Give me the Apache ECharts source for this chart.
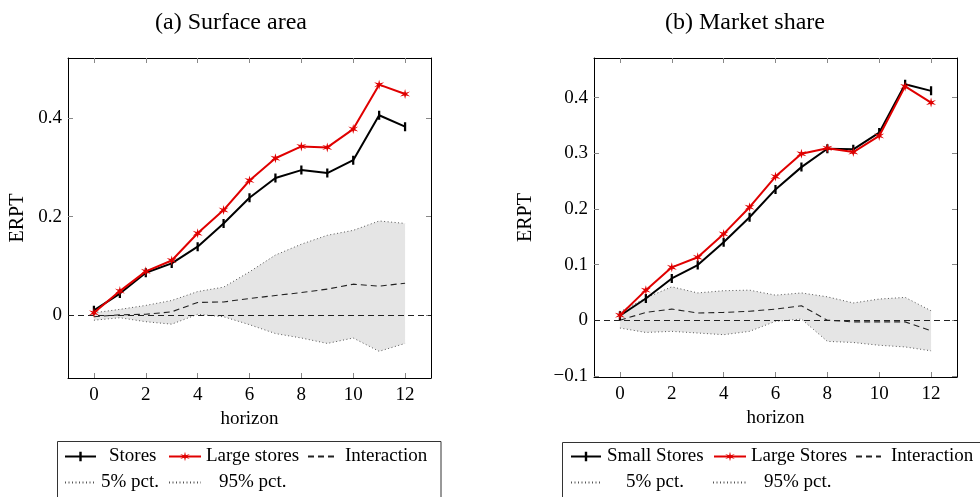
<!DOCTYPE html>
<html>
<head>
<meta charset="utf-8">
<script src="https://cdn.jsdelivr.net/npm/echarts@6/dist/echarts.min.js"></script>
<style>
html,body{margin:0;padding:0;background:#fff;}
#c{width:980px;height:497px;}
</style>
</head>
<body>
<div id="c"></div>
<script>
// ---- data ----
const horizon = [0,1,2,3,4,5,6,7,8,9,10,11,12];
// (a) Surface area
const surfStores = [0.010,0.044,0.086,0.105,0.139,0.186,0.238,0.278,0.294,0.288,0.314,0.405,0.382];
const surfLarge  = [0.005,0.049,0.089,0.111,0.166,0.213,0.273,0.318,0.342,0.340,0.377,0.467,0.448];
const surfInter  = [-0.003,0.001,0.002,0.007,0.026,0.027,0.034,0.040,0.046,0.053,0.063,0.059,0.065];
const surfP5     = [-0.010,-0.005,-0.013,-0.018,0.002,-0.003,-0.019,-0.037,-0.046,-0.057,-0.046,-0.073,-0.057];
const surfP95    = [0.005,0.012,0.020,0.030,0.048,0.057,0.088,0.122,0.144,0.162,0.172,0.191,0.186];
// (b) Market share
const mktSmall = [0.008,0.039,0.075,0.099,0.140,0.185,0.235,0.275,0.308,0.307,0.337,0.424,0.412];
const mktLarge = [0.009,0.054,0.095,0.113,0.155,0.203,0.258,0.299,0.309,0.302,0.331,0.420,0.391];
const mktInter = [0.000,0.014,0.020,0.013,0.014,0.016,0.020,0.026,0.000,-0.003,-0.003,-0.003,-0.019];
const mktP5    = [-0.014,-0.022,-0.020,-0.023,-0.026,-0.020,-0.002,0.002,-0.038,-0.040,-0.045,-0.048,-0.055];
const mktP95   = [0.015,0.040,0.060,0.049,0.053,0.054,0.045,0.049,0.042,0.031,0.038,0.041,0.017];
// ticks
const xTicks  = [0,2,4,6,8,10,12];
const yTicksA = [0,0.2,0.4];
const yTicksB = [-0.1,0,0.1,0.2,0.3,0.4];

// ---- styles ----
const FONT = '"Liberation Serif", "DejaVu Serif", serif';
const pairs = (ys) => horizon.map((x,i)=>[x, ys[i]]);
const fmtNum = (v) => { if (Math.abs(v) < 1e-9) return '0'; const s = (+v.toFixed(2)).toString(); return s.replace('-', '\u2212'); };

// asterisk-like star path
function starPath(){
  let d = '';
  const n = 6, R = 10, r = 3.2;
  for (let k=0;k<2*n;k++){
    const a = -Math.PI/2 + k*Math.PI/n;
    const rr = (k%2===0)?R:r;
    d += (k===0?'M':'L') + (rr*Math.cos(a)).toFixed(2) + ',' + (rr*Math.sin(a)).toFixed(2);
  }
  return 'path://' + d + 'Z';
}
const STAR = starPath();
// vertical bar mark inside a square bounding box (degenerate corner points keep the box square)
const BAR = 'path://M-5,-5L-5,-5ZM5,5L5,5ZM-1.25,-5L1.25,-5L1.25,5L-1.25,5Z';

function xAxes(gridIndex){
  const common = {
    type:'value', gridIndex, min:-1, max:13,
    axisLine:{show:true, onZero:false, lineStyle:{color:'#000', width:1}},
    splitLine:{show:false},
    axisTick:{show:true, inside:true, length:5, lineStyle:{color:'#888'}, customValues:xTicks}
  };
  return [
    Object.assign({}, common, {position:'bottom',
      axisLabel:{show:true, customValues:xTicks, margin:8, color:'#000', fontFamily:FONT, fontSize:19, formatter:fmtNum},
      name:'horizon', nameLocation:'middle', nameGap:31, nameTextStyle:{color:'#000', fontFamily:FONT, fontSize:19}}),
    Object.assign({}, common, {position:'top', axisLabel:{show:false}})
  ];
}
function yAxes(gridIndex, min, max, ticks, nameGap){
  const common = {
    type:'value', gridIndex, min, max,
    axisLine:{show:true, onZero:false, lineStyle:{color:'#000', width:1}},
    splitLine:{show:false},
    axisTick:{show:true, inside:true, length:5, lineStyle:{color:'#888'}, customValues:ticks}
  };
  return [
    Object.assign({}, common, {position:'left',
      axisLabel:{show:true, customValues:ticks, margin:6, color:'#000', fontFamily:FONT, fontSize:19, formatter:fmtNum},
      name:'ERPT', nameLocation:'middle', nameGap, nameRotate:90, nameTextStyle:{color:'#000', fontFamily:FONT, fontSize:20}}),
    Object.assign({}, common, {position:'right', axisLabel:{show:false}})
  ];
}

function bandSeries(ax, lo, hi){
  return {
    type:'custom', xAxisIndex:ax, yAxisIndex:ax, silent:true, clip:true, z:1,
    data: horizon.map((x,i)=>[x, lo[i], hi[i]]),
    renderItem: function(params, api){
      if (params.dataIndex !== 0) return null;
      const pts = [];
      for (let i=0;i<horizon.length;i++) pts.push(api.coord([horizon[i], lo[i]]));
      for (let i=horizon.length-1;i>=0;i--) pts.push(api.coord([horizon[i], hi[i]]));
      return {type:'polygon', shape:{points:pts}, style:{fill:'#e5e5e5', stroke:null}};
    }
  };
}
function dotted(ax, name, ys){
  return {type:'line', name, xAxisIndex:ax, yAxisIndex:ax, data:pairs(ys), symbol:'none', z:2, silent:true,
    itemStyle:{color:'#555'},
    lineStyle:{color:'#555', width:1, type:[1,2.5]}};
}
function zeroAndInter(ax, ys){
  return {type:'line', name:'Interaction', xAxisIndex:ax, yAxisIndex:ax, data:pairs(ys), symbol:'none', z:3, silent:true,
    itemStyle:{color:'#222'},
    lineStyle:{color:'#222', width:1.1, type:[6,4]},
    markLine:{silent:true, symbol:'none', label:{show:false}, data:[{yAxis:0}],
      lineStyle:{color:'#222', width:1.1, type:[6,4]}}};
}
function blackLine(ax, name, ys){
  return {type:'line', name, xAxisIndex:ax, yAxisIndex:ax, data:pairs(ys), symbol:BAR, symbolSize:9, showSymbol:true, z:4, silent:true,
    lineStyle:{color:'#000', width:2}, itemStyle:{color:'#000'}};
}
function redLine(ax, name, ys){
  return {type:'line', name, xAxisIndex:ax, yAxisIndex:ax, data:pairs(ys), symbol:STAR, symbolSize:10, showSymbol:true, z:5, silent:true,
    lineStyle:{color:'#e00000', width:2}, itemStyle:{color:'#e00000'}};
}

function leg(name, left, top, pad, w, noSym){
  const item = noSym ? {name, itemStyle:{opacity:0}} : {name};
  return {data:[item], left, top, padding:0, itemWidth:w||31, itemHeight:12, selectedMode:false,
    textStyle:{color:'#000', fontFamily:FONT, fontSize:19, padding:[0,0,0,pad]}};
}

const chart = echarts.init(document.getElementById('c'), null, {renderer:'canvas'});
chart.setOption({
  animation:false,
  backgroundColor:'#fff',
  title:[
    {text:'(a) Surface area', left:226, top:6, textAlign:'center', textStyle:{fontFamily:FONT, fontSize:24, fontWeight:'normal', color:'#000'}},
    {text:'(b) Market share', left:740, top:6, textAlign:'center', textStyle:{fontFamily:FONT, fontSize:24, fontWeight:'normal', color:'#000'}}
  ],
  grid:[
    {left:68, top:58, width:363, height:320},
    {left:594, top:58, width:363, height:319}
  ],
  xAxis:[...xAxes(0), ...xAxes(1)],
  yAxis:[...yAxes(0, -0.127, 0.521, yTicksA, 40), ...yAxes(1, -0.102, 0.471, yTicksB, 58)],
  legend:[
    leg('Stores', 64, 447, 8),
    leg('Large stores', 168, 447, 0, 32),
    leg('Interaction', 307, 447, 3, 29, true),
    leg('5% pct.', 64, 473, 2, 29, true),
    leg('95% pct.', 168, 473, 13, 32, true),
    leg('Small Stores', 570, 447, 1, 30),
    leg('Large Stores', 713, 447, 0, 32),
    leg('Interaction', 855, 447, 5, 25, true),
    leg('5% pct.', 570, 473, 20, 30, true),
    leg('95% pct.', 712, 473, 13, 33, true)
  ],
  graphic:[
    {type:'rect', shape:{x:57.5, y:441.5, width:383.5, height:80}, style:{fill:'none', stroke:'#333', lineWidth:1}, silent:true},
    {type:'rect', shape:{x:562.5, y:442.5, width:500, height:80}, style:{fill:'none', stroke:'#333', lineWidth:1}, silent:true}
  ],
  series:[
    bandSeries(0, surfP5, surfP95),
    dotted(0, '5% pct.', surfP5),
    dotted(0, '95% pct.', surfP95),
    zeroAndInter(0, surfInter),
    blackLine(0, 'Stores', surfStores),
    redLine(0, 'Large stores', surfLarge),
    bandSeries(2, mktP5, mktP95),
    dotted(2, '5% pct.', mktP5),
    dotted(2, '95% pct.', mktP95),
    zeroAndInter(2, mktInter),
    blackLine(2, 'Small Stores', mktSmall),
    redLine(2, 'Large Stores', mktLarge)
  ]
});
</script>
</body>
</html>
